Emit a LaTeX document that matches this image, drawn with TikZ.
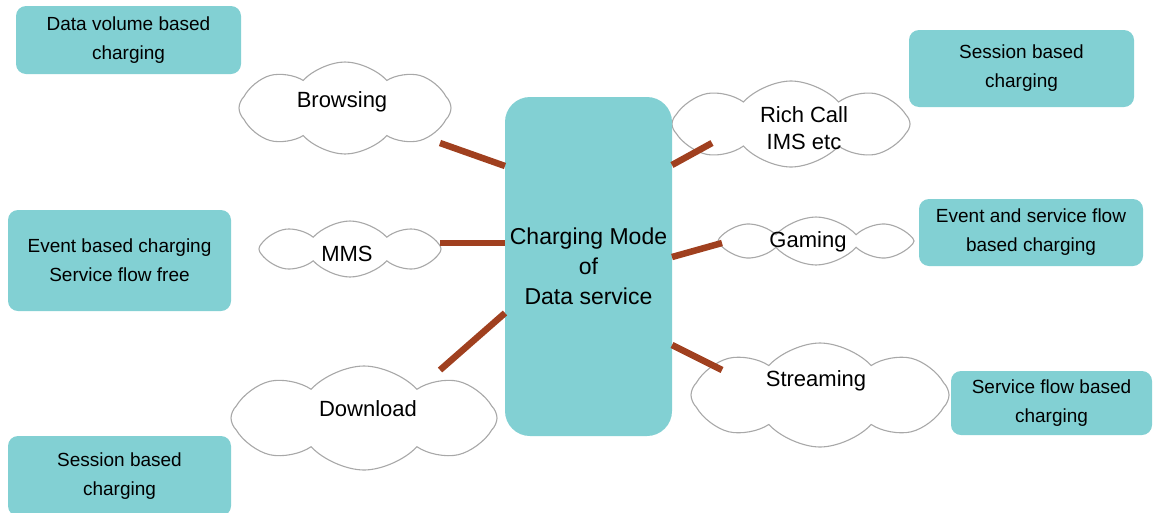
\documentclass[tikz,border=0pt]{standalone}
\usepackage{fontspec}
\setmainfont{Liberation Sans}
\usetikzlibrary{shapes.symbols,calc}
\definecolor{teal}{HTML}{82D0D3}
\definecolor{link}{HTML}{A0401F}
\definecolor{puff}{HTML}{A8A8A8}
\begin{document}
\begin{tikzpicture}[x=1pt,y=-1pt,
  tag/.style={fill=teal,rounded corners=10pt,inner sep=0pt,outer sep=0pt,
    align=center,font=\fontsize{19}{29}\selectfont},
  hubbox/.style={fill=teal,rounded corners=25pt,inner sep=0pt,outer sep=0pt,
    minimum width=167pt,minimum height=339pt,align=center,
    font=\fontsize{23}{30}\selectfont},
  puffy/.style={cloud,cloud puffs=8,cloud puff arc=95,cloud ignores aspect,
    draw=puff,fill=white,line width=1.1pt,inner sep=0pt},
  word/.style={font=\fontsize{22}{27}\selectfont,align=center,inner sep=0pt},
  wire/.style={draw=link,line width=6.5pt}]
\useasboundingbox (0,0) rectangle (1155,512);

% service clouds
\node[puffy,minimum width=212pt,minimum height=92pt] (cb) at (345,108) {};
\node[puffy,minimum width=182pt,minimum height=56pt] (cm) at (350,249) {};
\node[puffy,minimum width=266pt,minimum height=104pt] (cd) at (364,418) {};
\node[puffy,minimum width=238pt,minimum height=86pt] (cr) at (791,124) {};
\node[puffy,minimum width=196pt,minimum height=48pt] (cg) at (816,241) {};
\node[puffy,minimum width=258pt,minimum height=104pt] (cs) at (820,395) {};

\node[word] (wb) at (342,102) {Browsing};
\node[word] (wm) at (347,254) {MMS};
\node[word] (wd) at (368,409) {Download};
\node[word] (wr) at (804,128) {Rich Call\\IMS etc};
\node[word] (wg) at (808,242) {Gaming};
\node[word] (ws) at (816,381) {Streaming};

% central hub
\node[hubbox] (hub) at (588.5,266.5) {Charging Mode\\of\\Data service};

% charging-mode tags
\node[tag,minimum width=225pt,minimum height=68pt] (t1) at (128.5,40) {Data volume based\\charging};
\node[tag,minimum width=223pt,minimum height=101pt] (t2) at (119.5,260.5) {Event based charging\\Service flow free};
\node[tag,minimum width=223pt,minimum height=80pt] (t3) at (119.5,476) {Session based\\charging};
\node[tag,minimum width=225pt,minimum height=77pt] (t4) at (1021.5,68.5) {Session based\\charging};
\node[tag,minimum width=224pt,minimum height=67pt] (t5) at (1031,232.5) {Event and service flow\\based charging};
\node[tag,minimum width=201pt,minimum height=64pt] (t6) at (1051.5,403) {Service flow based\\charging};

% connector ends at the clouds
\coordinate (eb) at (440,143);
\coordinate (em) at (440,243);
\coordinate (ed) at (440,370);
\coordinate (er) at (712,143);
\coordinate (eg) at (722,243);
\coordinate (es) at (722,370);

% connectors
\draw[wire] (eb) -- ($(hub.north west)+(0,69)$);
\draw[wire] (em) -- ($(hub.north west)+(0,146)$);
\draw[wire] (ed) -- ($(hub.north west)+(0,216)$);
\draw[wire] (er) -- ($(hub.north east)+(0,68)$);
\draw[wire] (eg) -- ($(hub.north east)+(0,160)$);
\draw[wire] (es) -- ($(hub.north east)+(0,248)$);
\end{tikzpicture}
\end{document}
